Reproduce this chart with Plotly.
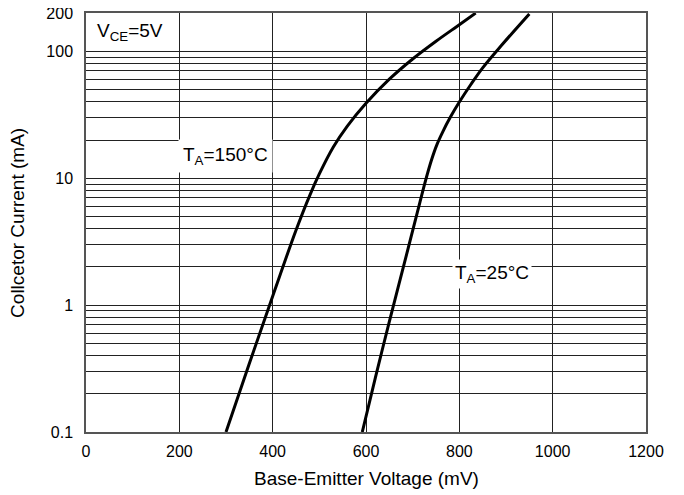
import numpy as np
import plotly.graph_objects as go

# Data (collector current in mA vs base-emitter voltage in mV)
v_150 = [300, 350, 400, 450, 480, 500, 530, 560, 600, 650, 700, 750, 800, 835]
i_150 = [0.1, 0.347, 1.175, 3.89, 7.4, 10.8, 17.6, 25.7, 38.9, 60.3, 87, 120, 162, 200]

v_25 = [592, 620, 650, 680, 710, 726, 740, 752, 765, 780, 800, 825, 850, 890, 950]
i_25 = [0.1, 0.267, 0.741, 1.99, 5.37, 9.12, 13.8, 18.4, 23.4, 29.9, 39.8, 55, 74.1, 111, 197]

x_ticks = [0, 200, 400, 600, 800, 1000, 1200]
y_major = [0.1, 1, 10, 100, 200]
y_major_text = ["0.1", "1", "10", "100", "200"]
y_minor = [m * d for d in (0.1, 1, 10) for m in range(2, 10)]

FONT = "Liberation Sans, Arial, sans-serif"

fig = go.Figure()
for v, i in ((v_150, i_150), (v_25, i_25)):
    fig.add_trace(go.Scatter(x=v, y=i, mode="lines",
                             line=dict(color="black", width=3, shape="spline", smoothing=1.0),
                             showlegend=False, hoverinfo="skip", cliponaxis=True))

fig.update_layout(
    width=684, height=495,
    margin=dict(l=78, r=46, t=5, b=71, autoexpand=False),
    paper_bgcolor="white", plot_bgcolor="white",
    font=dict(family=FONT, size=16, color="black"),
    xaxis=dict(range=[0, 1200], tickvals=x_ticks, ticktext=[str(t) for t in x_ticks],
               showgrid=True, gridcolor="#222", gridwidth=1,
               showline=True, linecolor="#555", linewidth=1.5, mirror=True,
               ticks="", zeroline=False, ticklabelstandoff=4,
               ticklabeloverflow="allow"),
    yaxis=dict(type="log", range=[-1, np.log10(200) + 0.0008],
               tickvals=y_major, ticktext=y_major_text,
               showgrid=True, gridcolor="#222", gridwidth=1,
               minor=dict(tickvals=y_minor, showgrid=True, gridcolor="#222",
                          gridwidth=1, ticks=""),
               showline=True, linecolor="#555", linewidth=1.5, mirror=True,
               ticks="", zeroline=False, ticklabelstandoff=8,
               ticklabeloverflow="allow"),
)

# axis titles
fig.add_annotation(x=0.5, y=-0.112, xref="paper", yref="paper",
                   text="Base-Emitter Voltage (mV)", showarrow=False,
                   xanchor="center", yanchor="middle", font=dict(size=19, family=FONT))
fig.add_annotation(x=-0.1225, y=0.5, xref="paper", yref="paper",
                   text="Collcetor Current (mA)", showarrow=False, textangle=-90,
                   xanchor="center", yanchor="middle", font=dict(size=19, family=FONT))

# in-plot labels
fig.add_annotation(x=19, y=np.log10(142), xref="x", yref="y",
                   text="V<sub>CE</sub>=5V", showarrow=False,
                   xanchor="left", yanchor="middle",
                   font=dict(size=19, family=FONT))
fig.add_annotation(x=298, y=np.log10(15), xref="x", yref="y",
                   text="T<sub>A</sub>=150°C", showarrow=False,
                   xanchor="center", yanchor="middle", bgcolor="white",
                   borderpad=4, font=dict(size=19, family=FONT))
fig.add_annotation(x=871, y=np.log10(1.75), xref="x", yref="y",
                   text="T<sub>A</sub>=25°C", showarrow=False,
                   xanchor="center", yanchor="middle", bgcolor="white",
                   borderpad=2, font=dict(size=19, family=FONT))

fig.write_html("out.html")
